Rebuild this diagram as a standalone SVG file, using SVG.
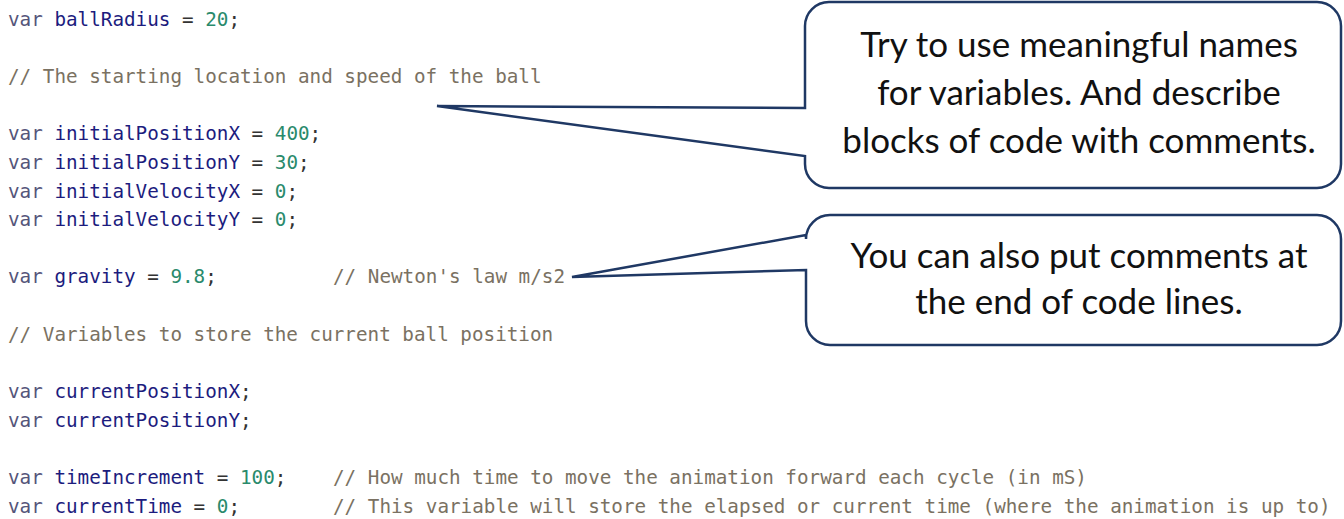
<svg xmlns="http://www.w3.org/2000/svg" width="1344" height="519" viewBox="0 0 1344 519">
<style>
.code{font-family:"DejaVu Sans Mono","Liberation Mono",monospace;font-size:19.27px;fill:#333}
.kw{fill:#55557a}
.id{fill:#1c1c7e}
.num{fill:#2a8a6c}
.cm{fill:#7a7162}
.call{fill:#fff;stroke:#1f3864;stroke-width:2.5;stroke-linejoin:miter}
.ct{font-family:Lato,"Open Sans",sans-serif;font-size:35px;fill:#111;text-anchor:middle}
</style>
<rect width="1344" height="519" fill="#fff"/>
<g id="code">
<text class="code" x="8" y="26"><tspan class="kw">var</tspan> <tspan class="id">ballRadius</tspan> = <tspan class="num">20</tspan>;</text>
<text class="code cm" x="8" y="83">// The starting location and speed of the ball</text>
<text class="code" x="8" y="140"><tspan class="kw">var</tspan> <tspan class="id">initialPositionX</tspan> = <tspan class="num">400</tspan>;</text>
<text class="code" x="8" y="169"><tspan class="kw">var</tspan> <tspan class="id">initialPositionY</tspan> = <tspan class="num">30</tspan>;</text>
<text class="code" x="8" y="197.5"><tspan class="kw">var</tspan> <tspan class="id">initialVelocityX</tspan> = <tspan class="num">0</tspan>;</text>
<text class="code" x="8" y="226"><tspan class="kw">var</tspan> <tspan class="id">initialVelocityY</tspan> = <tspan class="num">0</tspan>;</text>
<text class="code" x="8" y="283"><tspan class="kw">var</tspan> <tspan class="id">gravity</tspan> = <tspan class="num">9.8</tspan>;<tspan class="cm" x="333">// Newton's law m/s2</tspan></text>
<text class="code cm" x="8" y="340.5">// Variables to store the current ball position</text>
<text class="code" x="8" y="398"><tspan class="kw">var</tspan> <tspan class="id">currentPositionX</tspan>;</text>
<text class="code" x="8" y="426.5"><tspan class="kw">var</tspan> <tspan class="id">currentPositionY</tspan>;</text>
<text class="code" x="8" y="484"><tspan class="kw">var</tspan> <tspan class="id">timeIncrement</tspan> = <tspan class="num">100</tspan>;<tspan class="cm" x="333">// How much time to move the animation forward each cycle (in mS)</tspan></text>
<text class="code" x="8" y="512.5"><tspan class="kw">var</tspan> <tspan class="id">currentTime</tspan> = <tspan class="num">0</tspan>;<tspan class="cm" x="333">// This variable will store the elapsed or current time (where the animation is up to)</tspan></text>
</g>
<g id="connectors"></g>
<g id="callout-names">
<path class="call" d="M829,2 H1317 A24,24 0 0 1 1341,26 V164 A24,24 0 0 1 1317,188 H829 A24,24 0 0 1 805,164 V156 L437,106 L805,108 V26 A24,24 0 0 1 829,2 Z"/>
<text class="ct" x="1079" y="57">Try to use meaningful names</text>
<text class="ct" x="1079" y="105">for variables. And describe</text>
<text class="ct" x="1079" y="153">blocks of code with comments.</text>
</g>
<g id="callout-eol">
<path class="call" d="M830,215 H1317 A24,24 0 0 1 1341,239 V321 A24,24 0 0 1 1317,345 H830 A24,24 0 0 1 806,321 V270 L572,277 L806,235 V239 A24,24 0 0 1 830,215 Z"/>
<text class="ct" x="1079" y="268">You can also put comments at</text>
<text class="ct" x="1079" y="314">the end of code lines.</text>
</g>
</svg>
